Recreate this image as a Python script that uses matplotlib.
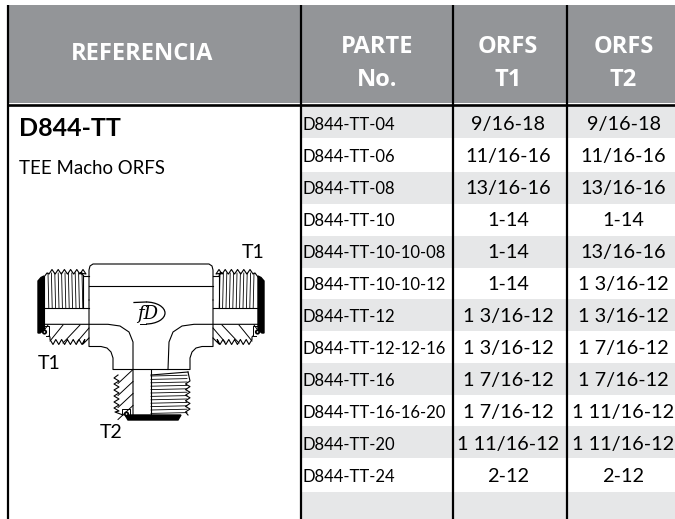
# coding:utf-8

import matplotlib
matplotlib.use('Agg')
import matplotlib.pyplot as plt
from matplotlib.patches import Rectangle, Circle, Arc, FancyBboxPatch

# tabla
referencia = 'D844-TT'
descripcion = 'TEE Macho ORFS'
header_parte = 'PARTE\nNo.'
parte = ['D844-TT-04', 'D844-TT-06', 'D844-TT-08', 'D844-TT-10', 'D844-TT-10-10-08',
         'D844-TT-10-10-12', 'D844-TT-12', 'D844-TT-12-12-16', 'D844-TT-16',
         'D844-TT-16-16-20', 'D844-TT-20', 'D844-TT-24']
orfs_t1 = ['9/16-18', '11/16-16', '13/16-16', '1-14', '1-14', '1-14', '1 3/16-12',
           '1 3/16-12', '1 7/16-12', '1 7/16-12', '1 11/16-12', '2-12']
orfs_t2 = ['9/16-18', '11/16-16', '13/16-16', '1-14', '13/16-16', '1 3/16-12', '1 3/16-12',
           '1 7/16-12', '1 7/16-12', '1 11/16-12', '1 11/16-12', '2-12']

# layout in pixels
W, H = 675, 519
band_edges = [106, 138, 172, 204, 236, 268, 299, 331, 363, 395, 426, 458, 492, 519]
col_lines = [7.5, 301, 453, 567]
GRAY = '#939598'
BAND = '#e6e7e8'
FONT = 'Lato'

fig = plt.figure(figsize=(W / 100, H / 100), dpi=100)
ax = fig.add_axes([0, 0, 1, 1])
ax.set_xlim(0, W)
ax.set_ylim(H, 0)
ax.axis('off')

# bandas
for i in range(len(band_edges) - 1):
    if i % 2 == 0:
        ax.add_patch(Rectangle((301, band_edges[i]), W - 301, band_edges[i + 1] - band_edges[i],
                               fc=BAND, ec='none', zorder=1))

# cabecera
ax.add_patch(Rectangle((7, 5), W - 7, 98, fc=GRAY, ec='none', zorder=1))
ax.plot([7, W], [104.5, 104.5], color='black', lw=1.9, zorder=3, solid_capstyle='butt')
for x in col_lines:
    ax.plot([x, x], [5, H], color='black', lw=1.6, zorder=3, solid_capstyle='butt')


def header(x, y, s):
    ax.text(x, y, s, color='white', fontsize=17, fontweight='bold', family='Open Sans',
            ha='center', va='center', linespacing=1.5, zorder=4)


header(142.5, 54.5, 'REFERENCIA')
header(377, 63.5, header_parte)
header(508, 63.5, 'ORFS\nT1')
header(623.5, 63.5, 'ORFS\nT2')

ax.text(19, 128, referencia, fontsize=18, fontweight='bold', family=FONT, va='center', color='black')
ax.text(19, 169, descripcion, fontsize=13.4, family=FONT, va='center', color='black')

# filas
for i in range(len(parte)):
    y = 124.5 + 32 * i
    ax.text(303, y, parte[i], fontsize=12, family=FONT, va='center', color='black', zorder=4)
    ax.text(508, y, orfs_t1[i], fontsize=14.3, family=FONT, ha='center', va='center', color='black', zorder=4)
    ax.text(623.5, y, orfs_t2[i], fontsize=14.3, family=FONT, ha='center', va='center', color='black', zorder=4)

# dibujo de la pieza
LW = 0.8
CX = 151


def ln(xs, ys, lw=LW, mirror=False):
    ax.plot(xs, ys, color='black', lw=lw, zorder=5, solid_joinstyle='round')
    if mirror:
        ax.plot([2 * CX - x for x in xs], ys, color='black', lw=lw, zorder=5, solid_joinstyle='round')


# cuerpo
ax.add_patch(FancyBboxPatch((93, 268), 116, 30, boxstyle='round,pad=4', fc='white', ec='none', zorder=4))
ln([89, 89, 90, 93, 209, 212, 213, 213], [300, 270, 266, 264, 264, 266, 270, 300])
ln([89, 213], [285.7, 285.7])
ln([89, 89, 101, 107, 111, 113, 113, 190, 190, 192, 196, 202, 213, 213],
   [300, 346.5, 346.5, 348, 352, 358, 369.5, 369.5, 358, 352, 348, 346.5, 346.5, 300])
# conductos
ln([44, 89, 108, 120, 129, 133, 133], [324.3, 324.3, 324.3, 326, 332, 342, 415])
ln([258, 213, 194, 182, 173, 169, 168], [324.3, 324.3, 324.3, 326, 332, 342, 369.5])
ln([44, 89], [307.7, 307.7], mirror=True)
ln([151, 151], [369.5, 415])
ln([133, 151], [415, 415])

# brazos
for k in range(2):
    mirror = k == 1
    m = (lambda x: 2 * CX - x) if mirror else (lambda x: x)
    # rosca superior
    xs, ys = [44, 47], [277, 273]
    for c in range(6):
        xs += [49 + 6.2 * c, 52 + 6.2 * c, 55 + 6.2 * c]
        ys += [274, 269.5, 274]
    xs += [80, 83]
    ys += [273, 275]
    ln([m(x) for x in xs], ys)
    for c in range(11):
        x = 48 + 3.4 * c
        ln([m(x), m(x + 0.8)], [273, 307.7], lw=0.6)
    ln([m(44), m(44)], [277, 333])
    ln([m(83), m(83)], [275, 307.7])
    ln([m(83), m(89)], [275.5, 275.5])
    # sello negro
    ax.fill([m(38), m(38), m(41), m(44), m(44), m(40)], [333, 281, 277.5, 276, 330, 333], color='black', zorder=6)
    # rosca inferior
    xs, ys = [49, 50], [336, 337]
    for c in range(6):
        xs += [50 + 5.8 * c, 53 + 5.8 * c, 55.8 + 5.8 * c]
        ys += [339.5, 344.5, 339.5]
    xs += [83, 89]
    ys += [344, 338]
    ln([m(x) for x in xs], ys)
    ln([m(63), m(50)], [325, 341], lw=0.7)
    ln([m(80), m(63)], [325, 343], lw=0.7)
    ln([m(89), m(77)], [328, 342], lw=0.7)
    ln([m(48), m(45)], [325, 329], lw=0.7)
    # junta
    ln([m(44), m(49), m(49), m(46)], [326, 326, 336, 336], lw=0.7)
    ax.add_patch(Circle((m(44.5), 332), 2.6, fc='black', ec='none', zorder=7))
    ax.add_patch(Circle((m(44.5), 332), 0.8, fc='white', ec='none', zorder=8))

# rosca vertical
xs, ys = [118], [375]
for c in range(6):
    xs += [114, 119]
    ys += [378 + 6 * c, 381 + 6 * c]
xs += [115, 123]
ys += [412, 415]
ln(xs, ys)
for c in range(4):
    y = 369.5 + 12 * c
    ln([133, 118], [y, y + 14], lw=0.7)
xs, ys = [188], [372]
for c in range(6):
    xs += [190, 185.5]
    ys += [381 + 5.6 * c, 384 + 5.6 * c]
xs += [188]
ys += [415]
ln(xs, ys)
for c in range(12):
    y = 376 + 3.4 * c
    ln([151, 187], [y, y - 0.8], lw=0.6)
ln([151, 188], [375, 372])
ln([122, 122, 130, 130], [415, 409, 409, 415], lw=0.7)
ax.fill([125, 128, 178, 181], [415, 420, 420, 415], color='black', zorder=6)
ax.add_patch(Circle((126.5, 414), 2.6, fc='black', ec='none', zorder=7))
ax.add_patch(Circle((126.5, 414), 0.8, fc='white', ec='none', zorder=8))

# logo
ax.add_patch(Arc((146, 313), 38, 22, theta1=-90, theta2=90, color='black', lw=0.9, zorder=6))
ln([134, 146], [302.5, 302], lw=0.9)
ln([140, 146], [324, 324], lw=0.7)
ax.text(148, 314, 'fD', fontsize=13, family='DejaVu Serif', style='italic', ha='center', va='center',
        color='black', zorder=6)

ax.text(253, 253, 'T1', fontsize=14, family=FONT, ha='center', va='center', color='black')
ax.text(49, 363.5, 'T1', fontsize=14, family=FONT, ha='center', va='center', color='black')
ax.text(111, 432.5, 'T2', fontsize=14, family=FONT, ha='center', va='center', color='black')

fig.savefig('out.png', dpi=100)
